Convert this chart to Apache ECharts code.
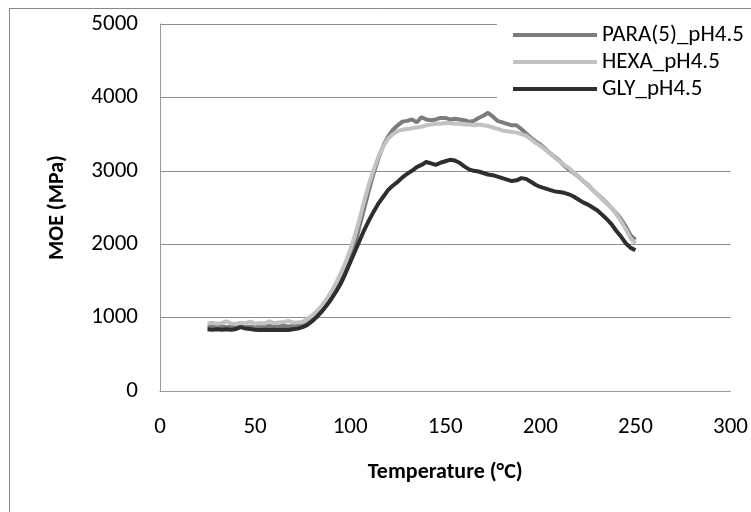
<!DOCTYPE html>
<html>
<head>
<meta charset="utf-8">
<script src="https://cdn.jsdelivr.net/npm/echarts@6/dist/echarts.min.js"></script>
<style>
  html, body { margin: 0; padding: 0; background: #fff; }
  #chart { width: 751px; height: 512px; }
</style>
</head>
<body>
<div id="chart"></div>
<script>
var temps = [25, 27.5, 30, 32.5, 35, 37.5, 40, 42.5, 45, 47.5, 50, 52.5, 55, 57.5, 60, 62.5, 65, 67.5, 70, 72.5,
  75, 77.5, 80, 82.5, 85, 87.5, 90, 92.5, 95, 97.5, 100, 102.5, 105, 107.5, 110, 112.5, 115, 117.5, 120, 122.5,
  125, 127.5, 130, 132.5, 135, 137.5, 140, 142.5, 145, 147.5, 150, 152.5, 155, 157.5, 160, 162.5, 165, 167.5, 170, 172.5,
  175, 177.5, 180, 182.5, 185, 187.5, 190, 192.5, 195, 197.5, 200, 202.5, 205, 207.5, 210, 212.5, 215, 217.5, 220, 222.5,
  225, 227.5, 230, 232.5, 235, 237.5, 240, 242.5, 245, 247.5, 250];

var para = [880, 875, 885, 880, 870, 880, 885, 900, 880, 875, 870, 880, 875, 885, 880, 875, 890, 880, 885, 890,
  900, 930, 980, 1040, 1100, 1180, 1270, 1380, 1500, 1650, 1800, 2000, 2250, 2500, 2750, 2980, 3180, 3350, 3470, 3560,
  3620, 3670, 3680, 3700, 3660, 3730, 3700, 3690, 3700, 3720, 3720, 3700, 3710, 3700, 3690, 3670, 3680, 3720, 3750, 3790,
  3740, 3680, 3660, 3640, 3620, 3620, 3570, 3510, 3450, 3400, 3360, 3300, 3240, 3190, 3140, 3070, 3020, 2970, 2920, 2860,
  2810, 2740, 2680, 2620, 2560, 2490, 2420, 2340, 2240, 2120, 2060];

var hexa = [920, 930, 915, 925, 950, 920, 915, 930, 920, 945, 915, 925, 920, 950, 925, 935, 940, 955, 930, 935,
  940, 980, 1030, 1090, 1160, 1250, 1350, 1470, 1600, 1750, 1920, 2120, 2350, 2600, 2830, 3030, 3200, 3340, 3440, 3500,
  3540, 3560, 3570, 3580, 3590, 3600, 3620, 3630, 3640, 3640, 3650, 3650, 3640, 3640, 3630, 3630, 3620, 3630, 3620, 3610,
  3590, 3570, 3550, 3540, 3530, 3520, 3500, 3480, 3430, 3380, 3340, 3290, 3240, 3180, 3130, 3080, 3040, 2980, 2920, 2860,
  2800, 2740, 2680, 2610, 2550, 2490, 2410, 2310, 2200, 2080, 2010];

var gly = [840, 835, 840, 835, 840, 835, 845, 870, 850, 845, 835, 830, 835, 830, 835, 830, 835, 830, 840, 850,
  870, 900, 950, 1010, 1080, 1160, 1250, 1350, 1460, 1600, 1750, 1900, 2050, 2200, 2330, 2450, 2560, 2650, 2740, 2800,
  2850, 2910, 2960, 3000, 3050, 3080, 3120, 3100, 3080, 3110, 3130, 3150, 3140, 3110, 3060, 3020, 3000, 2990, 2970, 2950,
  2940, 2920, 2900, 2880, 2860, 2870, 2900, 2890, 2850, 2810, 2780, 2760, 2740, 2720, 2710, 2700, 2680, 2650, 2610, 2570,
  2540, 2500, 2460, 2400, 2340, 2270, 2180, 2100, 2010, 1950, 1920];

var seriesNames = ['PARA(5)_pH4.5', 'HEXA_pH4.5', 'GLY_pH4.5'];
var seriesColors = ['#7c7c7c', '#c2c2c2', '#2e2e2e'];
var seriesValues = [para, hexa, gly];

var font = 'Carlito, Lato, sans-serif';

function pairs(vals) {
  return temps.map(function (t, i) { return [t, vals[i]]; });
}

var chartDom = document.getElementById('chart');
var myChart = echarts.init(chartDom);
var option;

option = {
  animation: false,
  backgroundColor: '#fff',
  textStyle: { fontFamily: font },
  graphic: [{
    type: 'rect',
    shape: { x: 9.5, y: 8.5, width: 800, height: 600 },
    style: { fill: 'none', stroke: '#888', lineWidth: 1 },
    silent: true
  }],
  grid: { left: 160, top: 24, right: 18, bottom: 121 },
  legend: {
    orient: 'vertical',
    left: 497,
    top: 22,
    padding: [1, 4, 2, 16],
    itemGap: 3,
    itemWidth: 84,
    itemHeight: 4,
    backgroundColor: '#fff',
    icon: 'rect',
    textStyle: { fontFamily: font, fontSize: 23, lineHeight: 24, color: '#000' },
    data: seriesNames
  },
  xAxis: {
    type: 'value',
    min: 0, max: 300, interval: 50,
    name: 'Temperature (°C)',
    nameLocation: 'middle',
    nameGap: 70,
    nameTextStyle: { fontFamily: font, fontSize: 22, fontWeight: 'bold', color: '#000' },
    axisLine: { lineStyle: { color: '#999' } },
    axisTick: { show: false },
    axisLabel: { fontSize: 23, color: '#000', margin: 25, formatter: function (v) { return String(v); } },
    splitLine: { show: false }
  },
  yAxis: {
    type: 'value',
    min: 0, max: 5000, interval: 1000,
    name: 'MOE (MPa)',
    nameLocation: 'middle',
    nameGap: 92,
    nameTextStyle: { fontFamily: font, fontSize: 22, fontWeight: 'bold', color: '#000' },
    axisLine: { show: true, lineStyle: { color: '#999' } },
    axisTick: { show: false },
    axisLabel: { fontSize: 23, color: '#000', margin: 22, formatter: function (v) { return String(v); } },
    splitLine: { lineStyle: { color: '#8c8c8c', width: 1 } }
  },
  series: seriesNames.map(function (name, i) {
    return {
      name: name,
      type: 'line',
      data: pairs(seriesValues[i]),
      showSymbol: false,
      color: seriesColors[i],
      lineStyle: { width: 4, color: seriesColors[i] }
    };
  })
};

option && myChart.setOption(option);
</script>
</body>
</html>
